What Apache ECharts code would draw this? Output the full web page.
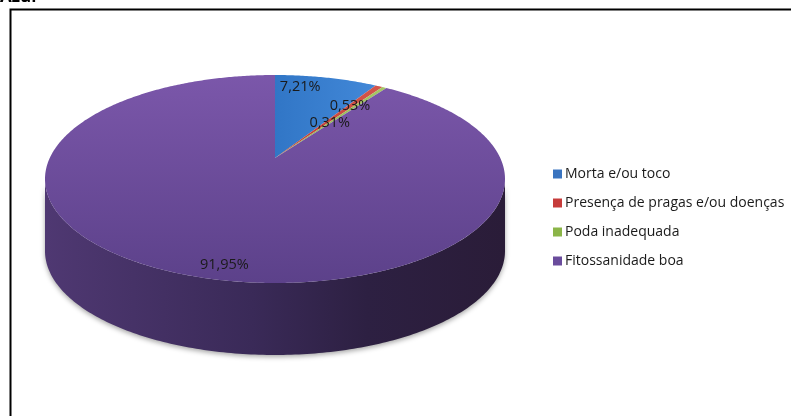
<!DOCTYPE html>
<html>
<head>
<meta charset="utf-8">
<title>Azul</title>
<script src="https://cdn.jsdelivr.net/npm/echarts@6/dist/echarts.min.js"></script>
<style>
  html, body { margin: 0; padding: 0; background: #fff; }
</style>
</head>
<body>
<div id="main" style="width:791px;height:416px"></div>
<script type="text/javascript">
// dados
var categories = ['Morta e/ou toco', 'Presença de pragas e/ou doenças', 'Poda inadequada', 'Fitossanidade boa'];
var percentValues = [7.21, 0.53, 0.31, 91.95];

// cores (legenda / face de cima / lateral)
var legendColors = ['#3a74c0', '#c63b3a', '#8bb548', '#6a4c9c'];
var topColors = [
    ['#3176c6', '#4288d8'],
    ['#c0392f', '#d4574c'],
    ['#8fb54a', '#a6c866'],
    ['#7b57aa', '#5c418a']
];
var sideColors = [
    ['#24548f', '#1d4577'],
    ['#8a2420', '#6e1b18'],
    ['#617f2e', '#4d6624'],
    ['#4f3872', '#2a1c38']
];
// posicao dos rotulos (fracao do raio) e alinhamento
var labelFrac = [0.88, 0.72, 0.5, 0.88];
var labelAlign = ['right', 'center', 'center', 'center'];

// geometria da pizza "3d"
var apex = [275, 158];
var ell = { cx: 275, cy: 179, rx: 230, ry: 104 };
var depth = 72;

var total = percentValues.reduce(function (a, b) { return a + b; }, 0);

function rim(deg, dy) {
    var t = deg * Math.PI / 180;
    return [ell.cx + ell.rx * Math.sin(t), ell.cy - ell.ry * Math.cos(t) + (dy || 0)];
}

function fmt(v) {
    return v.toFixed(2).replace('.', ',') + '%';
}

function renderSlice(params, api) {
    var i = params.seriesIndex;
    var before = 0;
    for (var k = 0; k < i; k++) before += percentValues[k];
    var a0 = before / total * 360;
    var a1 = (before + percentValues[i]) / total * 360;
    var children = [];

    // lateral (so a metade da frente, 90..270)
    var s0 = Math.max(a0, 90), s1 = Math.min(a1, 270);
    if (s1 > s0) {
        var pts = [];
        for (var d = s0; d <= s1; d += 1) pts.push(rim(d));
        pts.push(rim(s1));
        for (var d2 = s1; d2 >= s0; d2 -= 1) pts.push(rim(d2, depth));
        pts.push(rim(s0, depth));
        children.push({
            type: 'polygon',
            shape: { points: pts },
            style: {
                fill: {
                    type: 'linear', x: 0, y: 0, x2: 1, y2: 0,
                    colorStops: [
                        { offset: 0, color: sideColors[i][0] },
                        { offset: 0.45, color: '#3a2a58' },
                        { offset: 0.7, color: '#2d2042' },
                        { offset: 1, color: sideColors[i][1] }
                    ]
                },
                shadowBlur: 5,
                shadowColor: 'rgba(0,0,0,0.35)',
                shadowOffsetY: 2
            },
            z2: 1
        });
    }

    // face de cima
    var top = [apex];
    for (var d3 = a0; d3 < a1; d3 += 0.5) top.push(rim(d3));
    top.push(rim(a1));
    var vertical = i === 3;
    children.push({
        type: 'polygon',
        shape: { points: top },
        style: {
            fill: {
                type: 'linear', x: 0, y: 0,
                x2: vertical ? 0 : 1, y2: vertical ? 1 : 0,
                colorStops: [
                    { offset: 0, color: topColors[i][0] },
                    { offset: 1, color: topColors[i][1] }
                ]
            }
        },
        z2: 2
    });

    // rotulo
    var mid = rim((a0 + a1) / 2);
    var f = labelFrac[i];
    children.push({
        type: 'text',
        x: apex[0] + f * (mid[0] - apex[0]),
        y: apex[1] + f * (mid[1] - apex[1]),
        style: {
            text: fmt(percentValues[i]),
            fill: '#1a1a1a',
            font: '14.5px "Open Sans"',
            align: labelAlign[i],
            verticalAlign: 'middle'
        },
        z2: 10
    });

    return { type: 'group', children: children };
}

var myChart = echarts.init(document.getElementById('main'), null, { renderer: 'canvas' });

var series = categories.map(function (name, i) {
    return {
        type: 'custom',
        name: name,
        coordinateSystem: 'none',
        renderItem: renderSlice,
        itemStyle: { color: legendColors[i] },
        data: [[percentValues[i]]],
        silent: true,
        animation: false
    };
});

var option = {
    backgroundColor: '#ffffff',
    animation: false,
    legend: {
        orient: 'vertical',
        left: 548,
        top: 162,
        icon: 'rect',
        itemWidth: 9,
        itemHeight: 9,
        itemGap: 15,
        selectedMode: false,
        textStyle: {
            fontFamily: 'Open Sans',
            fontSize: 14,
            color: '#1a1a1a',
            padding: [0, 0, 0, -2]
        },
        data: categories
    },
    graphic: [
        {
            type: 'rect',
            shape: { x: 10.5, y: 9.5, width: 800, height: 420 },
            style: { fill: 'none', stroke: '#000', lineWidth: 2 },
            silent: true
        },
        {
            type: 'text',
            left: 0,
            top: -11,
            style: {
                text: 'Azul',
                font: 'bold 17px "Open Sans"',
                fill: '#000'
            }
        }
    ],
    series: series
};
myChart.setOption(option);
</script>
</body>
</html>
